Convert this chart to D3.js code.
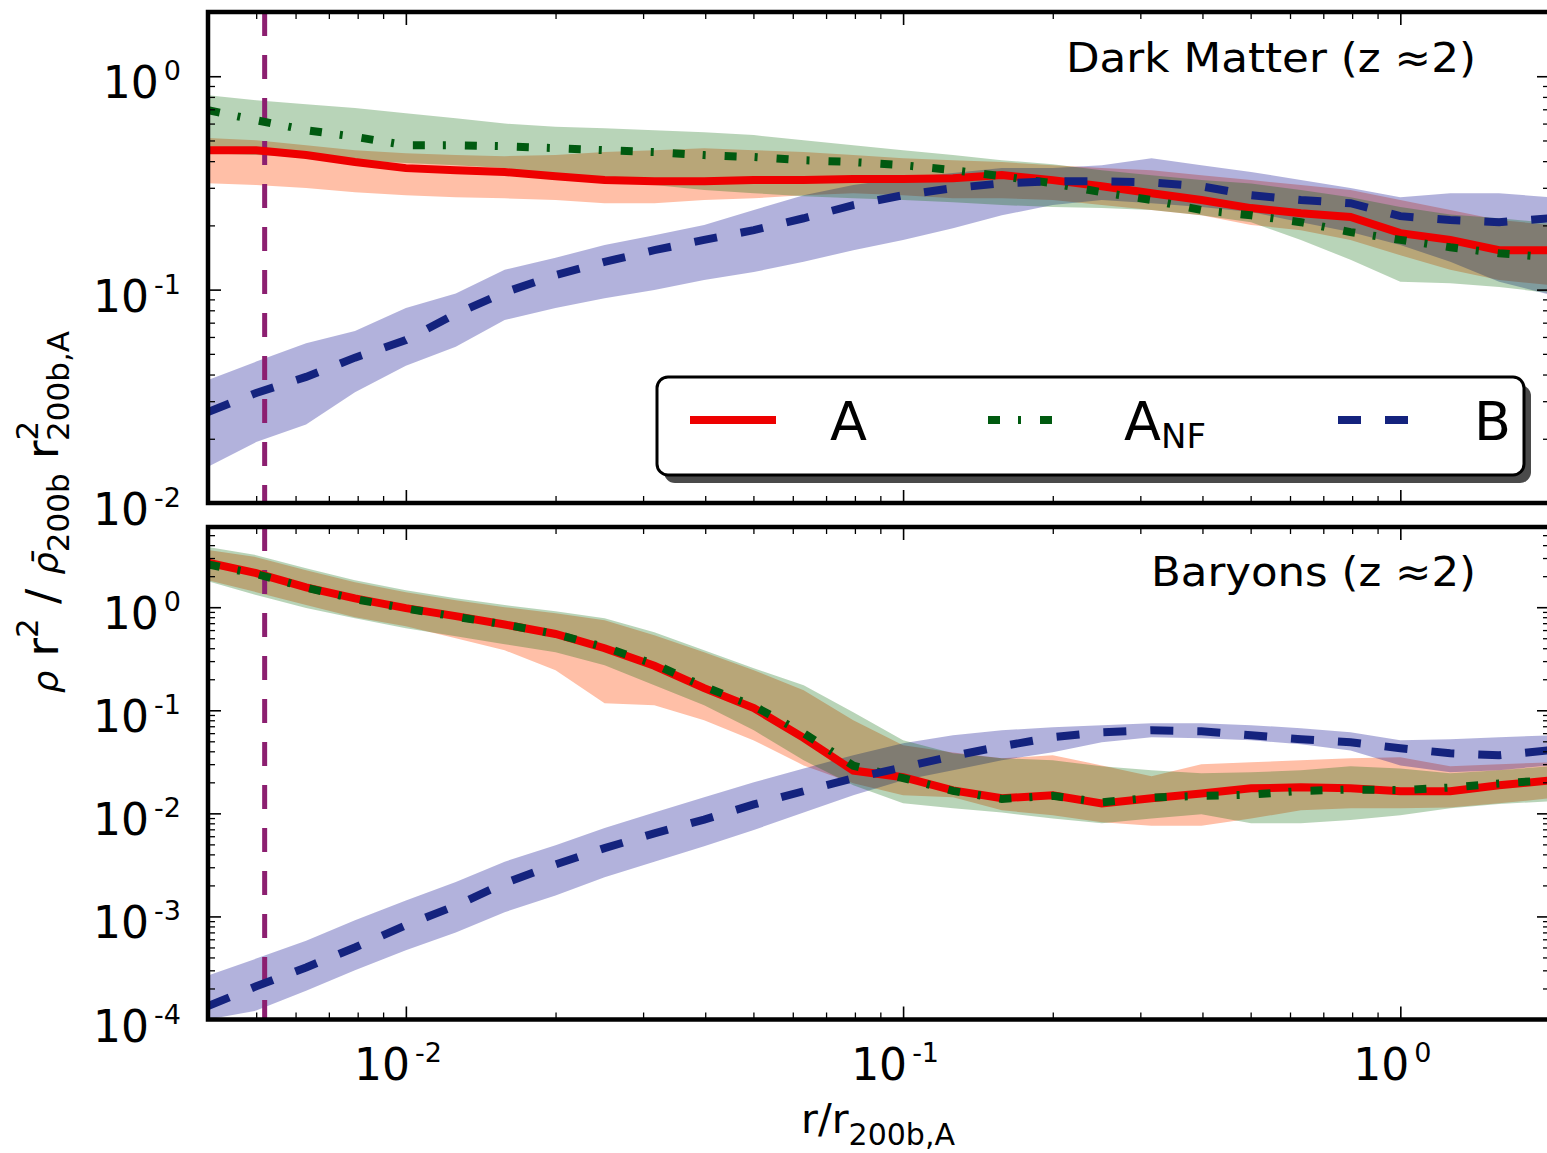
<!DOCTYPE html>
<html>
<head>
<meta charset="UTF-8">
<title>Density profiles</title>
<style>
  body { margin: 0; background: #fff; }
  svg text { font-family: "DejaVu Sans", sans-serif; fill: #000; }
</style>
</head>
<body>
<svg width="1547" height="1153"></svg>
<script src="https://d3js.org/d3.v7.min.js"></script>
<script>
// radial bins, r / r200b,A
const radius = [0.004, 0.005, 0.0063, 0.0079, 0.01, 0.0126, 0.0158, 0.02, 0.0251, 0.0316, 0.0398, 0.0501, 0.0631, 0.0794,
                0.1, 0.126, 0.158, 0.2, 0.251, 0.316, 0.398, 0.501, 0.631, 0.794, 1.0, 1.26, 1.58, 2.0];

// dark matter panel
const dmA    = [0.45, 0.45, 0.427, 0.396, 0.371, 0.363, 0.356, 0.34, 0.326, 0.322, 0.322, 0.326, 0.326, 0.33, 0.33, 0.333, 0.344, 0.326, 0.305, 0.283, 0.263, 0.241, 0.228, 0.219, 0.184, 0.171, 0.153, 0.153];
const dmAlo  = [0.315, 0.309, 0.299, 0.286, 0.277, 0.271, 0.268, 0.263, 0.254, 0.254, 0.263, 0.268, 0.277, 0.283, 0.277, 0.268, 0.268, 0.263, 0.249, 0.236, 0.223, 0.201, 0.19, 0.171, 0.145, 0.124, 0.111, 0.105];
const dmAhi  = [0.513, 0.501, 0.475, 0.45, 0.436, 0.427, 0.422, 0.427, 0.441, 0.45, 0.46, 0.45, 0.441, 0.427, 0.413, 0.404, 0.396, 0.383, 0.371, 0.363, 0.344, 0.326, 0.309, 0.293, 0.263, 0.236, 0.212, 0.201];
const dmNF   = [0.693, 0.622, 0.559, 0.52, 0.475, 0.475, 0.47, 0.46, 0.45, 0.441, 0.427, 0.418, 0.404, 0.396, 0.383, 0.363, 0.34, 0.315, 0.286, 0.263, 0.236, 0.223, 0.207, 0.186, 0.171, 0.158, 0.148, 0.142];
const dmNFlo = [0.436, 0.427, 0.418, 0.404, 0.392, 0.383, 0.371, 0.344, 0.326, 0.309, 0.293, 0.283, 0.274, 0.268, 0.263, 0.257, 0.249, 0.244, 0.241, 0.236, 0.223, 0.207, 0.171, 0.138, 0.109, 0.107, 0.103, 0.0964];
const dmNFhi = [0.815, 0.772, 0.74, 0.71, 0.67, 0.636, 0.6, 0.58, 0.571, 0.559, 0.547, 0.53, 0.501, 0.475, 0.45, 0.427, 0.404, 0.387, 0.363, 0.344, 0.326, 0.314, 0.293, 0.271, 0.244, 0.225, 0.216, 0.205];
const dmB    = [0.0267, 0.0328, 0.039, 0.048, 0.058, 0.077, 0.097, 0.117, 0.135, 0.153, 0.171, 0.19, 0.216, 0.249, 0.277, 0.299, 0.315, 0.322, 0.322, 0.318, 0.305, 0.277, 0.263, 0.254, 0.221, 0.212, 0.207, 0.216];
const dmBlo  = [0.0148, 0.0193, 0.0233, 0.033, 0.044, 0.054, 0.072, 0.082, 0.091, 0.0995, 0.111, 0.121, 0.135, 0.153, 0.171, 0.194, 0.223, 0.249, 0.263, 0.254, 0.244, 0.231, 0.207, 0.186, 0.162, 0.135, 0.109, 0.0945];
const dmBhi  = [0.0377, 0.046, 0.056, 0.064, 0.082, 0.096, 0.124, 0.141, 0.162, 0.18, 0.201, 0.236, 0.277, 0.309, 0.333, 0.352, 0.371, 0.371, 0.383, 0.413, 0.383, 0.356, 0.326, 0.299, 0.271, 0.283, 0.283, 0.271];

// baryon panel
const bA    = [2.7, 2.14, 1.56, 1.22, 0.98, 0.82, 0.68, 0.55, 0.40, 0.27, 0.164, 0.105, 0.054, 0.026, 0.0224, 0.0167, 0.014, 0.015, 0.0125, 0.014, 0.0156, 0.0175, 0.0179, 0.0175, 0.0164, 0.0164, 0.0187, 0.0209];
const bAlo  = [1.83, 1.4, 1.05, 0.8, 0.654, 0.5, 0.382, 0.245, 0.117, 0.112, 0.08, 0.051, 0.0292, 0.0196, 0.015, 0.0143, 0.0107, 0.0096, 0.0082, 0.0076, 0.0076, 0.0089, 0.0107, 0.0112, 0.0112, 0.0114, 0.0125, 0.014];
const bAhi  = [3.58, 3.06, 2.28, 1.75, 1.4, 1.17, 1.0, 0.874, 0.748, 0.535, 0.366, 0.245, 0.156, 0.08, 0.0458, 0.039, 0.0342, 0.0366, 0.0292, 0.0229, 0.0299, 0.0313, 0.0327, 0.0342, 0.035, 0.0286, 0.0299, 0.0313];
const bNF   = [2.6, 2.1, 1.55, 1.2, 0.97, 0.81, 0.68, 0.55, 0.41, 0.28, 0.17, 0.11, 0.06, 0.029, 0.022, 0.0165, 0.0138, 0.0148, 0.0128, 0.0142, 0.0148, 0.0152, 0.0165, 0.017, 0.0168, 0.0178, 0.0195, 0.021];
const bNFlo = [1.79, 1.31, 0.98, 0.78, 0.625, 0.523, 0.437, 0.366, 0.273, 0.175, 0.112, 0.064, 0.0327, 0.0187, 0.0125, 0.0112, 0.0102, 0.0089, 0.008, 0.0089, 0.0098, 0.008, 0.008, 0.0086, 0.0096, 0.0112, 0.0123, 0.0131];
const bNFhi = [3.83, 3.2, 2.39, 1.83, 1.46, 1.22, 1.05, 0.915, 0.782, 0.572, 0.382, 0.256, 0.175, 0.0958, 0.0512, 0.0383, 0.0342, 0.0327, 0.0286, 0.0262, 0.0245, 0.025, 0.0262, 0.0286, 0.0273, 0.0245, 0.0262, 0.0286];
const bB    = [1.35e-4, 2.1e-4, 3.2e-4, 5.0e-4, 8.2e-4, 1.27e-3, 2.1e-3, 3.2e-3, 4.6e-3, 6.4e-3, 8.7e-3, 0.0122, 0.0164, 0.0219, 0.028, 0.036, 0.0448, 0.0548, 0.0612, 0.064, 0.0626, 0.0572, 0.0523, 0.0489, 0.0428, 0.0383, 0.0366, 0.041];
const bBlo  = [1.0e-4, 1.22e-4, 1.9e-4, 3.0e-4, 4.7e-4, 7.0e-4, 1.1e-3, 1.6e-3, 2.4e-3, 3.4e-3, 4.8e-3, 6.9e-3, 0.0102, 0.015, 0.021, 0.0262, 0.0327, 0.0392, 0.0489, 0.0547, 0.0535, 0.0512, 0.0467, 0.0408, 0.0292, 0.025, 0.0262, 0.0292];
const bBhi  = [2.67e-4, 3.9e-4, 5.8e-4, 9.2e-4, 1.43e-3, 2.16e-3, 3.4e-3, 4.9e-3, 7.2e-3, 0.0102, 0.0143, 0.02, 0.0273, 0.0366, 0.0478, 0.0572, 0.064, 0.0685, 0.0716, 0.0748, 0.0748, 0.0716, 0.067, 0.0612, 0.0512, 0.0523, 0.0547, 0.0572];

const softening = 0.0052;          // vertical marker
const xMajor = [0.01, 0.1, 1];
const yMajorTop = [0.01, 0.1, 1];
const yMajorBot = [1e-4, 1e-3, 1e-2, 0.1, 1];
const seriesNames = ["A", "ANF", "B"];

const svg = d3.select("svg");
const left = 208, right = 1550;

const x = d3.scaleLog().domain([0.004, 2]).range([left, right]);

const panels = [
    { id: "dm", y: d3.scaleLog().domain([0.01, 2]).range([503, 12]), top: 12, bottom: 503,
      majors: yMajorTop, title: "Dark Matter (z \u22482)", titleY: 72, titleW: 410,
      A: [dmA, dmAlo, dmAhi], NF: [dmNF, dmNFlo, dmNFhi], B: [dmB, dmBlo, dmBhi] },
    { id: "bar", y: d3.scaleLog().domain([1e-4, 6]).range([1019.5, 527]), top: 527, bottom: 1019.5,
      majors: yMajorBot, title: "Baryons (z \u22482)", titleY: 586, titleW: 325,
      A: [bA, bAlo, bAhi], NF: [bNF, bNFlo, bNFhi], B: [bB, bBlo, bBhi] }
];

const style = {
    A:  { band: "#ff7f50", bandOp: 0.5,  line: "#ee0000", dash: null },
    NF: { band: "#006400", bandOp: 0.28, line: "#005a10", dash: "12,18,3,19" },
    B:  { band: "#00008b", bandOp: 0.3,  line: "#14237e", dash: "23,24" }
};

function sup10(textSel, e, size, supSize) {
    textSel.text(null);
    textSel.append("tspan").attr("font-size", size).text("10");
    textSel.append("tspan").attr("font-size", supSize).attr("dx", 5).attr("dy", -18).text(e);
}

panels.forEach(p => {
    const y = p.y;
    const g = svg.append("g");

    g.append("clipPath").attr("id", "clip-" + p.id)
        .append("rect").attr("x", left).attr("y", p.top)
        .attr("width", right - left).attr("height", p.bottom - p.top);

    const plot = g.append("g").attr("clip-path", `url(#clip-${p.id})`);

    const area = d3.area().x((d, i) => x(radius[i])).y0(d => y(d[0])).y1(d => y(d[1]));
    const line = d3.line().x((d, i) => x(radius[i])).y(d => y(d));

    ["A", "B", "NF"].forEach(k => {
        const [mid, lo, hi] = p[k];
        plot.append("path")
            .datum(lo.map((v, i) => [v, hi[i]]))
            .attr("d", area)
            .attr("fill", style[k].band)
            .attr("fill-opacity", style[k].bandOp);
    });

    plot.append("line")
        .attr("x1", x(softening)).attr("x2", x(softening))
        .attr("y1", p.top).attr("y2", p.bottom)
        .attr("stroke", "#8c1f70").attr("stroke-width", 5)
        .attr("stroke-dasharray", "24,19");

    ["A", "NF", "B"].forEach(k => {
        plot.append("path")
            .datum(p[k][0])
            .attr("d", line)
            .attr("fill", "none")
            .attr("stroke", style[k].line)
            .attr("stroke-width", 8)
            .attr("stroke-dasharray", style[k].dash);
    });

    // ticks on all four sides, pointing inward
    const xMinor = x.ticks().filter(t => !xMajor.some(m => Math.abs(m - t) < 1e-9));
    const yMinor = y.ticks().filter(t => !p.majors.some(m => Math.abs(m - t) / m < 1e-6));

    const axes = [
        [d3.axisTop(x), `translate(0,${p.top})`, xMajor, xMinor],
        [d3.axisBottom(x), `translate(0,${p.bottom})`, xMajor, xMinor],
        [d3.axisLeft(y), `translate(${left},0)`, p.majors, yMinor],
        [d3.axisRight(y), `translate(${right},0)`, p.majors, yMinor]
    ];
    axes.forEach(([ax, tr, maj, min]) => {
        g.append("g").attr("transform", tr)
            .call(ax.tickValues(maj).tickSize(-13).tickFormat(""))
            .call(s => s.select(".domain").remove())
            .call(s => s.selectAll("line").attr("stroke-width", 1.6));
        g.append("g").attr("transform", tr)
            .call(ax.tickValues(min).tickSize(-7).tickFormat(""))
            .call(s => s.select(".domain").remove())
            .call(s => s.selectAll("line").attr("stroke-width", 1.3));
    });

    // y tick labels
    p.majors.forEach(v => {
        const t = g.append("text")
            .attr("x", 181).attr("y", y(v) + 22)
            .attr("text-anchor", "end");
        sup10(t, String(Math.round(Math.log10(v))), 44, 27);
    });

    g.append("rect")
        .attr("x", left).attr("y", p.top)
        .attr("width", right - left).attr("height", p.bottom - p.top)
        .attr("fill", "none").attr("stroke", "#000").attr("stroke-width", 4.5);

    g.append("text")
        .attr("x", 1476).attr("y", p.titleY)
        .attr("text-anchor", "end")
        .attr("font-size", 41)
        .attr("textLength", p.titleW)
        .attr("lengthAdjust", "spacingAndGlyphs")
        .text(p.title);
});

// x tick labels
xMajor.forEach(v => {
    const t = svg.append("text")
        .attr("x", x(v) - 8).attr("y", 1080)
        .attr("text-anchor", "middle");
    sup10(t, String(Math.round(Math.log10(v))), 44, 27);
});

// x axis title
const xt = svg.append("text").attr("x", 878).attr("y", 1133)
    .attr("text-anchor", "middle").attr("font-size", 41);
xt.append("tspan").text("r/r");
xt.append("tspan").attr("font-size", 30).attr("dy", 12).text("200b,A");

// y axis title
const yt = svg.append("text")
    .attr("transform", "translate(58,512) rotate(-90)")
    .attr("text-anchor", "middle").attr("font-size", 45);
yt.append("tspan").attr("font-style", "italic").attr("font-size", 35).text("\u03c1");
yt.append("tspan").text(" r");
yt.append("tspan").attr("font-size", 31).attr("dy", -20).text("2");
yt.append("tspan").attr("dy", 20).text("  / ");
yt.append("tspan").attr("font-style", "italic").attr("font-size", 35).text("\u03c1\u0304");
yt.append("tspan").attr("font-size", 31).attr("dy", 11).text("200b");
yt.append("tspan").attr("dy", -11).text(" r");
yt.append("tspan").attr("font-size", 31).attr("dy", -20).text("2");
yt.append("tspan").attr("font-size", 31).attr("dx", -20).attr("dy", 31).text("200b,A");

// legend
const lg = svg.append("g");
lg.append("rect").attr("x", 664).attr("y", 385).attr("width", 867).attr("height", 98)
    .attr("rx", 11).attr("fill", "#4a4a4a");
lg.append("rect").attr("x", 657).attr("y", 377).attr("width", 867).attr("height", 98)
    .attr("rx", 11).attr("fill", "#fff").attr("stroke", "#000").attr("stroke-width", 3);

const legendItems = [
    { key: "A",  x1: 690,  x2: 776,  lx: 830 },
    { key: "NF", x1: 988,  x2: 1057, sub: "NF", lx: 1124 },
    { key: "B",  x1: 1338, x2: 1410, lx: 1474 }
];
legendItems.forEach((it, i) => {
    lg.append("line")
        .attr("x1", it.x1).attr("x2", it.x2).attr("y1", 420).attr("y2", 420)
        .attr("stroke", style[it.key].line).attr("stroke-width", 8)
        .attr("stroke-dasharray", style[it.key].dash);
    const t = lg.append("text").attr("x", it.lx).attr("y", 440).attr("font-size", 54);
    t.append("tspan").text(seriesNames[i].charAt(0));
    if (it.sub) t.append("tspan").attr("font-size", 34).attr("dy", 8).text(it.sub);
});
</script>
</body>
</html>
